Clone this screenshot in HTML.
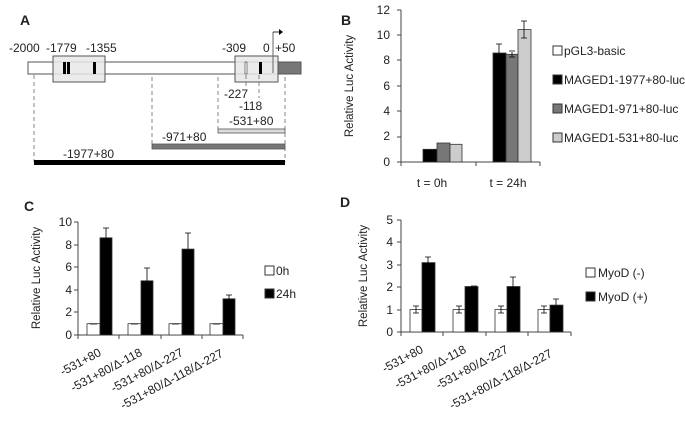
<!DOCTYPE html>
<html><head><meta charset="utf-8"><style>
body{margin:0;background:#fff}
svg{display:block;font-family:"Liberation Sans",sans-serif;font-size:12px;fill:#222}
</style></head><body>
<svg width="685" height="422" viewBox="0 0 685 422" xmlns="http://www.w3.org/2000/svg">
<!-- Panel A -->
<text x="20" y="25" font-size="14" font-weight="bold">A</text>
<g>
<text x="9" y="52">-2000</text><text x="46" y="52">-1779</text><text x="86" y="52">-1355</text>
<text x="222" y="52">-309</text><text x="263" y="52">0</text><text x="275" y="52">+50</text>
</g>
<rect x="28" y="62" width="250" height="12" fill="#fff" stroke="#555"/>
<rect x="278" y="62" width="23" height="12" fill="#777" stroke="#555"/>
<rect x="53" y="56" width="52" height="26" fill="#e8e8e8" fill-opacity="0.85" stroke="#555"/>
<rect x="235" y="56" width="43" height="26" fill="#e8e8e8" fill-opacity="0.85" stroke="#555"/>
<rect x="63" y="62" width="3" height="12" fill="#000"/><rect x="67" y="62" width="3" height="12" fill="#000"/>
<rect x="93" y="62" width="3" height="12" fill="#000"/>
<rect x="245" y="62" width="2" height="12" fill="#fff" stroke="#333" stroke-width="0.6"/>
<rect x="259" y="62" width="3" height="12" fill="#000"/>
<line x1="273" y1="73" x2="273" y2="32" stroke="#666"/>
<line x1="273" y1="32" x2="279" y2="32" stroke="#333"/>
<path d="M279 29 L283 32 L279 35 Z" fill="#000"/>
<g stroke="#666" stroke-dasharray="4,3" stroke-width="0.8">
<line x1="34" y1="75" x2="34" y2="162"/><line x1="152" y1="77" x2="152" y2="146"/>
<line x1="218" y1="77" x2="218" y2="130"/><line x1="285" y1="77" x2="285" y2="162"/>
<line x1="246" y1="75" x2="246" y2="88"/><line x1="259" y1="75" x2="259" y2="98"/>
</g>
<text x="224" y="98">-227</text><text x="239" y="110">-118</text>
<text x="229" y="125">-531+80</text>
<rect x="218" y="129" width="67" height="4" fill="#ddd" stroke="#555" stroke-width="0.8"/>
<text x="162" y="141">-971+80</text>
<rect x="152" y="144" width="133" height="5" fill="#777" stroke="#555" stroke-width="0.8"/>
<text x="63" y="158">-1977+80</text>
<rect x="34" y="160" width="251" height="5" fill="#000"/>

<!-- Panel B -->
<text x="341" y="25" font-size="14" font-weight="bold">B</text>
<g text-anchor="end">
<text x="390" y="14">12</text><text x="390" y="39">10</text><text x="390" y="64">8</text>
<text x="390" y="90">6</text><text x="390" y="115">4</text><text x="390" y="140">2</text><text x="390" y="166">0</text>
</g>
<line x1="401" y1="10" x2="401" y2="162" stroke="#444"/>
<line x1="401" y1="162" x2="540" y2="162" stroke="#444"/>
<g stroke="#444"><line x1="397" y1="10" x2="401" y2="10"/><line x1="397" y1="35" x2="401" y2="35"/><line x1="397" y1="60" x2="401" y2="60"/><line x1="397" y1="86" x2="401" y2="86"/><line x1="397" y1="111" x2="401" y2="111"/><line x1="397" y1="137" x2="401" y2="137"/><line x1="397" y1="162" x2="401" y2="162"/>
<line x1="401" y1="162" x2="401" y2="166"/><line x1="476" y1="162" x2="476" y2="166"/><line x1="540" y1="162" x2="540" y2="166"/></g>
<g stroke="#333" stroke-width="0.8">
<rect x="423" y="149.3" width="14" height="12.7" fill="#000"/>
<rect x="437" y="143" width="13" height="19" fill="#777"/>
<rect x="450" y="144.3" width="12" height="17.7" fill="#ccc"/>
<rect x="493" y="53" width="13" height="109" fill="#000"/>
<rect x="506" y="54.3" width="12" height="107.7" fill="#777"/>
<rect x="518" y="29.6" width="13" height="132.4" fill="#ccc"/>
<path d="M499 53 V44 M496 44 H502 M512 54 V52 M509 51 H515 M512 54 V57 M509 57 H515 M524 30 V21 M521 21 H527 M524 30 V38 M521 38 H527" fill="none" stroke="#000"/>
</g>
<text x="432" y="187" text-anchor="middle">t = 0h</text>
<text x="508" y="187" text-anchor="middle">t = 24h</text>
<text transform="translate(353,86) rotate(-90)" text-anchor="middle" font-size="11.5">Relative Luc Activity</text>
<g stroke="#333"><rect x="553" y="46" width="9" height="9" fill="#fff"/><rect x="553" y="75" width="9" height="9" fill="#000"/><rect x="553" y="104" width="9" height="9" fill="#777"/><rect x="553" y="133" width="9" height="9" fill="#ccc"/></g>
<text x="564" y="55">pGL3-basic</text><text x="564" y="84">MAGED1-1977+80-luc</text>
<text x="564" y="113">MAGED1-971+80-luc</text><text x="564" y="142">MAGED1-531+80-luc</text>

<!-- Panel C -->
<text x="24" y="211" font-size="14" font-weight="bold">C</text>
<g text-anchor="end">
<text x="72" y="226">10</text><text x="72" y="249">8</text><text x="72" y="271">6</text><text x="72" y="294">4</text><text x="72" y="316">2</text><text x="72" y="339">0</text>
</g>
<line x1="78" y1="222" x2="78" y2="335" stroke="#444"/>
<line x1="78" y1="335" x2="243" y2="335" stroke="#444"/>
<g stroke="#444"><line x1="74" y1="222" x2="78" y2="222"/><line x1="74" y1="245" x2="78" y2="245"/><line x1="74" y1="267" x2="78" y2="267"/><line x1="74" y1="290" x2="78" y2="290"/><line x1="74" y1="312" x2="78" y2="312"/><line x1="74" y1="335" x2="78" y2="335"/>
<line x1="78" y1="335" x2="78" y2="339"/><line x1="119" y1="335" x2="119" y2="339"/><line x1="161" y1="335" x2="161" y2="339"/><line x1="202" y1="335" x2="202" y2="339"/><line x1="243" y1="335" x2="243" y2="339"/></g>
<g stroke="#333" stroke-width="0.8">
<rect x="87" y="323.7" width="13" height="11.3" fill="#fff"/><rect x="100" y="237.8" width="12" height="97.2" fill="#000"/>
<rect x="128" y="323.7" width="13" height="11.3" fill="#fff"/><rect x="141" y="280.8" width="12" height="54.2" fill="#000"/>
<rect x="169" y="323.7" width="13" height="11.3" fill="#fff"/><rect x="182" y="249.1" width="12" height="85.9" fill="#000"/>
<rect x="210" y="323.7" width="13" height="11.3" fill="#fff"/><rect x="223" y="298.8" width="12" height="36.2" fill="#000"/>
<path d="M106 238 V228 M103 228 H109 M147 281 V268 M144 268 H150 M188 249 V233 M185 233 H191 M229 299 V295 M226 295 H232 M90 324 H97 M131 324 H138 M172 324 H179 M213 324 H220" fill="none" stroke="#000"/>
</g>
<g text-anchor="end">
<text transform="translate(102,355) rotate(-28)">-531+80</text>
<text transform="translate(143,355) rotate(-28)">-531+80/Δ-118</text>
<text transform="translate(184,355) rotate(-28)">-531+80/Δ-227</text>
<text transform="translate(224,356) rotate(-28)">-531+80/Δ-118/Δ-227</text>
</g>
<text transform="translate(40,278) rotate(-90)" text-anchor="middle" font-size="11.5">Relative Luc Activity</text>
<g stroke="#333"><rect x="265" y="266" width="9" height="9" fill="#fff"/><rect x="265" y="289" width="9" height="9" fill="#000"/></g>
<text x="276" y="275">0h</text><text x="276" y="298">24h</text>

<!-- Panel D -->
<text x="340" y="207" font-size="14" font-weight="bold">D</text>
<g text-anchor="end">
<text x="393" y="224">5</text><text x="393" y="246">4</text><text x="393" y="269">3</text><text x="393" y="291">2</text><text x="393" y="314">1</text><text x="393" y="336">0</text>
</g>
<line x1="401" y1="220" x2="401" y2="332" stroke="#444"/>
<line x1="401" y1="332" x2="571" y2="332" stroke="#444"/>
<g stroke="#444"><line x1="397" y1="220" x2="401" y2="220"/><line x1="397" y1="242" x2="401" y2="242"/><line x1="397" y1="265" x2="401" y2="265"/><line x1="397" y1="287" x2="401" y2="287"/><line x1="397" y1="310" x2="401" y2="310"/><line x1="397" y1="332" x2="401" y2="332"/>
<line x1="401" y1="332" x2="401" y2="336"/><line x1="443" y1="332" x2="443" y2="336"/><line x1="486" y1="332" x2="486" y2="336"/><line x1="528" y1="332" x2="528" y2="336"/><line x1="571" y1="332" x2="571" y2="336"/></g>
<g stroke="#333" stroke-width="0.8">
<rect x="410" y="309.6" width="12" height="22.4" fill="#fff"/><rect x="422" y="262.6" width="13" height="69.4" fill="#000"/>
<rect x="453" y="309.6" width="12" height="22.4" fill="#fff"/><rect x="465" y="286.5" width="13" height="45.5" fill="#000"/>
<rect x="495" y="309.6" width="12" height="22.4" fill="#fff"/><rect x="507" y="286.5" width="13" height="45.5" fill="#000"/>
<rect x="538" y="309.6" width="12" height="22.4" fill="#fff"/><rect x="550" y="305.1" width="13" height="26.9" fill="#000"/>
<path d="M416 306 V313 M413 306 H419 M413 313 H419 M459 306 V313 M456 306 H462 M456 313 H462 M501 306 V313 M498 306 H504 M498 313 H504 M544 306 V313 M541 306 H547 M541 313 H547 M428 263 V257 M425 257 H431 M471 286 H477 M513 287 V277 M510 277 H516 M556 305 V299 M553 299 H559" fill="none" stroke="#000"/>
</g>
<g text-anchor="end">
<text transform="translate(424,352) rotate(-28)">-531+80</text>
<text transform="translate(467,352) rotate(-28)">-531+80/Δ-118</text>
<text transform="translate(509,352) rotate(-28)">-531+80/Δ-227</text>
<text transform="translate(553,356) rotate(-28)">-531+80/Δ-118/Δ-227</text>
</g>
<text transform="translate(367,276) rotate(-90)" text-anchor="middle" font-size="11.5">Relative Luc Activity</text>
<g stroke="#333"><rect x="586" y="268" width="9" height="9" fill="#fff"/><rect x="586" y="292" width="9" height="9" fill="#000"/></g>
<text x="598" y="277">MyoD (-)</text><text x="598" y="301">MyoD (+)</text>
</svg>
</body></html>
